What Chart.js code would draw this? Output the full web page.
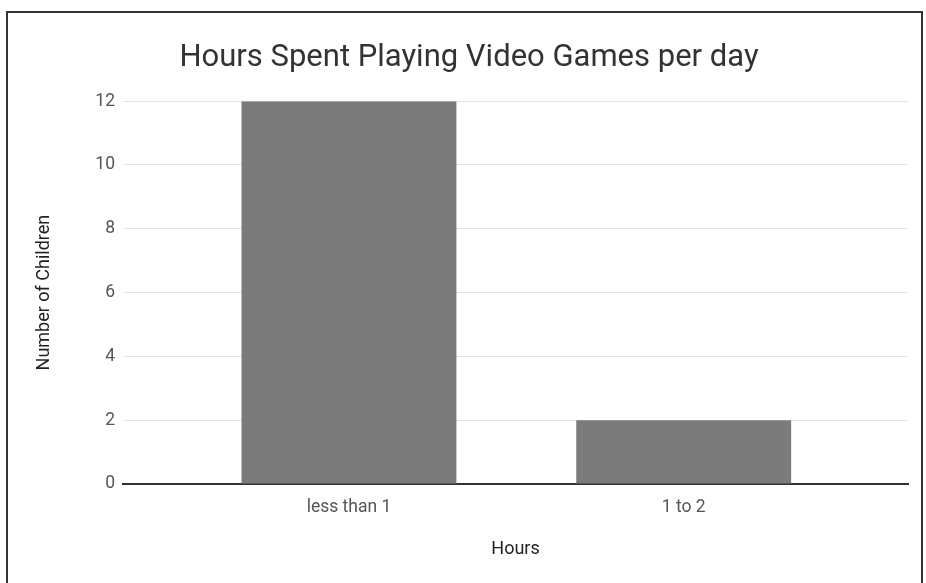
<!DOCTYPE html>
<html>
<head>
<meta charset="utf-8">
<title>Hours Spent Playing Video Games per day</title>
<script src="https://cdn.jsdelivr.net/npm/chart.js@4"></script>
<style>
    html, body { margin: 0; padding: 0; background: #fff; }
    #wrap { position: relative; width: 926px; height: 583px; }
    /* 枠線 */
    #frame {
        position: absolute; left: 6px; top: 11px; width: 913px; height: 600px;
        border: 2px solid #333; pointer-events: none;
    }
</style>
</head>
<body>
<div id="wrap">
    <canvas id="gamesChart" width="926" height="583"></canvas>
    <div id="frame"></div>
</div>
<script>
// データ
const categories = ['less than 1', '1 to 2'];
const children = [12, 2];
const yTicks = [0, 2, 4, 6, 8, 10, 12];

document.addEventListener('DOMContentLoaded', function () {
    const ctx = document.getElementById('gamesChart');

    if (ctx) {
        new Chart(ctx, {
            type: 'bar',
            data: {
                datasets: [{
                    label: 'Number of Children',
                    data: children.map((v, i) => ({ x: i, y: v })),
                    backgroundColor: '#7b7b7b',
                    borderWidth: 0,
                    barPercentage: 0.642,
                    categoryPercentage: 1
                }]
            },
            options: {
                responsive: false,
                animation: false,
                layout: { padding: { top: 40, right: 18, bottom: 19, left: 30 } },
                scales: {
                    x: {
                        type: 'linear',
                        min: -0.675,
                        max: 1.67,
                        offset: false,
                        grid: { display: false, offset: false },
                        border: { display: true, color: '#333', width: 2 },
                        afterBuildTicks: function (axis) {
                            axis.ticks = categories.map((c, i) => ({ value: i }));
                        },
                        afterFit: function (axis) { axis.height = 80; },
                        ticks: {
                            autoSkip: false,
                            padding: 5,
                            color: '#555',
                            font: { family: 'Roboto', size: 17.5 },
                            callback: (v) => categories[v]
                        },
                        title: {
                            display: true,
                            text: 'Hours',
                            color: '#222',
                            font: { family: 'Roboto', size: 18 }
                        }
                    },
                    y: {
                        min: 0,
                        max: 12,
                        afterBuildTicks: function (axis) {
                            axis.ticks = yTicks.map(v => ({ value: v }));
                        },
                        afterFit: function (axis) { axis.width = 123 - 30; },
                        border: { display: false },
                        grid: {
                            drawTicks: false,
                            color: '#e2e2e2',
                            lineWidth: 1
                        },
                        ticks: {
                            padding: 8,
                            color: '#555',
                            font: { family: 'Roboto', size: 17.5 }
                        },
                        title: {
                            display: true,
                            text: 'Number of Children',
                            color: '#222',
                            font: { family: 'Roboto', size: 18 }
                        }
                    }
                },
                plugins: {
                    legend: { display: false },
                    tooltip: { enabled: false },
                    title: {
                        display: true,
                        text: 'Hours Spent Playing Video Games per day',
                        color: '#333',
                        font: { family: 'Roboto', size: 31, weight: 'normal' },
                        padding: { top: 0, bottom: 24 }
                    }
                }
            }
        });
    }
    else {
        console.error("canvas要素が見つかりません。");
    }
});
</script>
</body>
</html>
